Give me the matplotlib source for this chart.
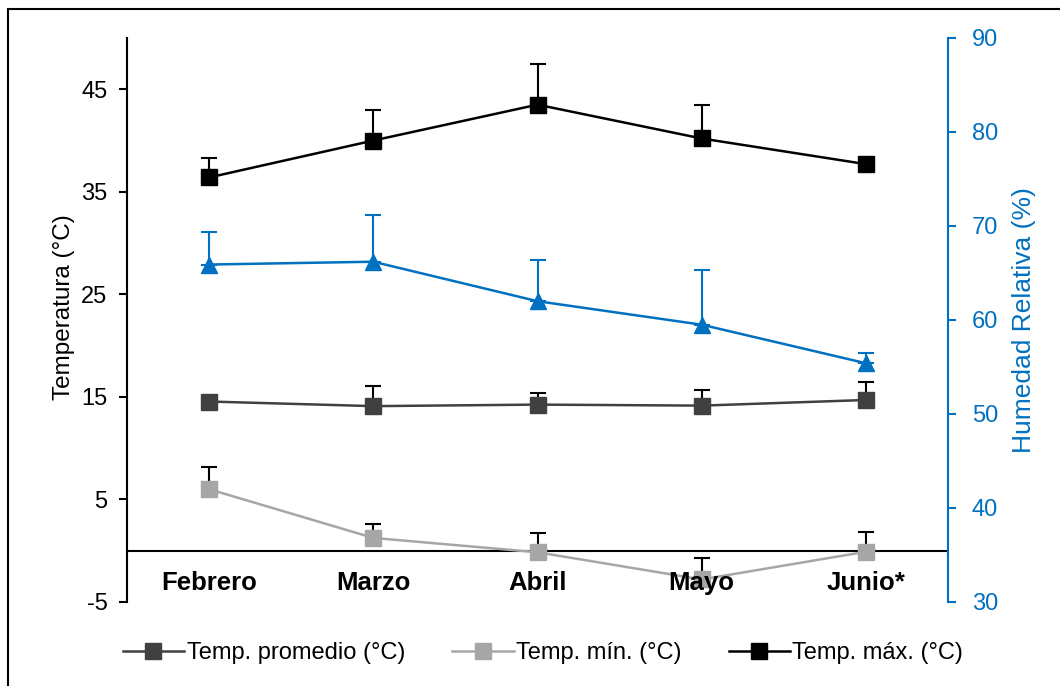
import matplotlib.pyplot as plt
from matplotlib.lines import Line2D
from matplotlib.patches import Rectangle

plt.rcParams['font.family'] = ['Liberation Sans', 'DejaVu Sans']
plt.rcParams['axes.unicode_minus'] = False

meses = ["Febrero", "Marzo", "Abril", "Mayo", "Junio*"]

t_max = [36.4, 40.0, 43.5, 40.2, 37.7]
t_max_err = [1.9, 3.0, 4.0, 3.3, 0.0]

t_prom = [14.55, 14.1, 14.25, 14.15, 14.7]
t_prom_err = [0.0, 2.0, 1.15, 1.55, 1.8]

t_min = [6.0, 1.25, -0.15, -2.8, -0.1]
t_min_err = [2.15, 1.4, 1.9, 2.1, 1.9]

humedad = [65.9, 66.2, 62.0, 59.5, 55.4]
humedad_err = [3.5, 5.0, 4.35, 5.8, 1.1]

azul = "#0070C0"
gris_osc = "#404040"
gris_cla = "#A6A6A6"

W, H = 1060, 686
fig = plt.figure(figsize=(W / 100, H / 100), dpi=100)
fig.patches.append(Rectangle((8 / W, -0.1), 1.2, 1 - 9 / H + 0.1, transform=fig.transFigure,
                             fill=False, edgecolor="black", linewidth=1.5))

ax = fig.add_axes([127 / W, (H - 602) / H, (948 - 127) / W, (602 - 38) / H])
ax2 = ax.twinx()

x = list(range(len(meses)))

# temperaturas (eje izquierdo)
series = [
    (t_prom, t_prom_err, gris_osc, "Temp. promedio (°C)"),
    (t_min, t_min_err, gris_cla, "Temp. mín. (°C)"),
    (t_max, t_max_err, "black", "Temp. máx. (°C)"),
]
handles = []
for vals, err, col, lab in series:
    ax.errorbar(x, vals, yerr=[[0] * len(vals), err], fmt="none", ecolor="black",
                elinewidth=1.5, capsize=5.5, capthick=1.5, zorder=2)
    ax.plot(x, vals, color=col, lw=1.8, marker="s", ms=11, mfc=col, mec=col, zorder=3)
    handles.append(Line2D([], [], color=col, lw=1.8, marker="s", ms=11, mfc=col, mec=col, label=lab))

ax.axhline(0, color="black", lw=1.5, zorder=2.5)

for i, m in enumerate(meses):
    ax.text(i, -3.15, m, ha="center", va="center", fontsize=18.5, fontweight="bold", zorder=5)

ax.set_xlim(-0.5, 4.5)
ax.set_ylim(-5, 50)
ax.set_yticks([-5, 5, 15, 25, 35, 45])
ax.set_xticks([])
ax.tick_params(axis="y", direction="out", length=6, width=1.5, labelsize=17, pad=8)
for s in ["top", "bottom", "right"]:
    ax.spines[s].set_visible(False)
ax.spines["left"].set_linewidth(1.5)
ax.set_ylabel("Temperatura (°C)", fontsize=17.5)
ax.yaxis.set_label_coords(-0.063, 0.523)

# humedad relativa (eje derecho)
ax2.errorbar(x, humedad, yerr=[[0] * len(humedad), humedad_err], fmt="none", ecolor=azul,
             elinewidth=1.5, capsize=5.5, capthick=1.5, zorder=2)
ax2.plot(x, humedad, color=azul, lw=1.8, marker="^", ms=11, zorder=3)
ax2.set_ylim(30, 90)
ax2.set_yticks(range(30, 91, 10))
ax2.tick_params(axis="y", direction="out", length=6, width=1.5, labelsize=17,
                colors=azul, pad=11)
for s in ["top", "bottom", "left"]:
    ax2.spines[s].set_visible(False)
ax2.spines["right"].set_color(azul)
ax2.spines["right"].set_linewidth(1.5)
ax2.set_ylabel("Humedad Relativa (%)", fontsize=19, color=azul, labelpad=10)

fig.legend(handles=handles, loc="center", bbox_to_anchor=(543 / W, (H - 653) / H), ncol=3,
           frameon=False, fontsize=17, handlelength=2.6, handletextpad=0.1, columnspacing=2.0)

fig.savefig("out.png", dpi=100)
